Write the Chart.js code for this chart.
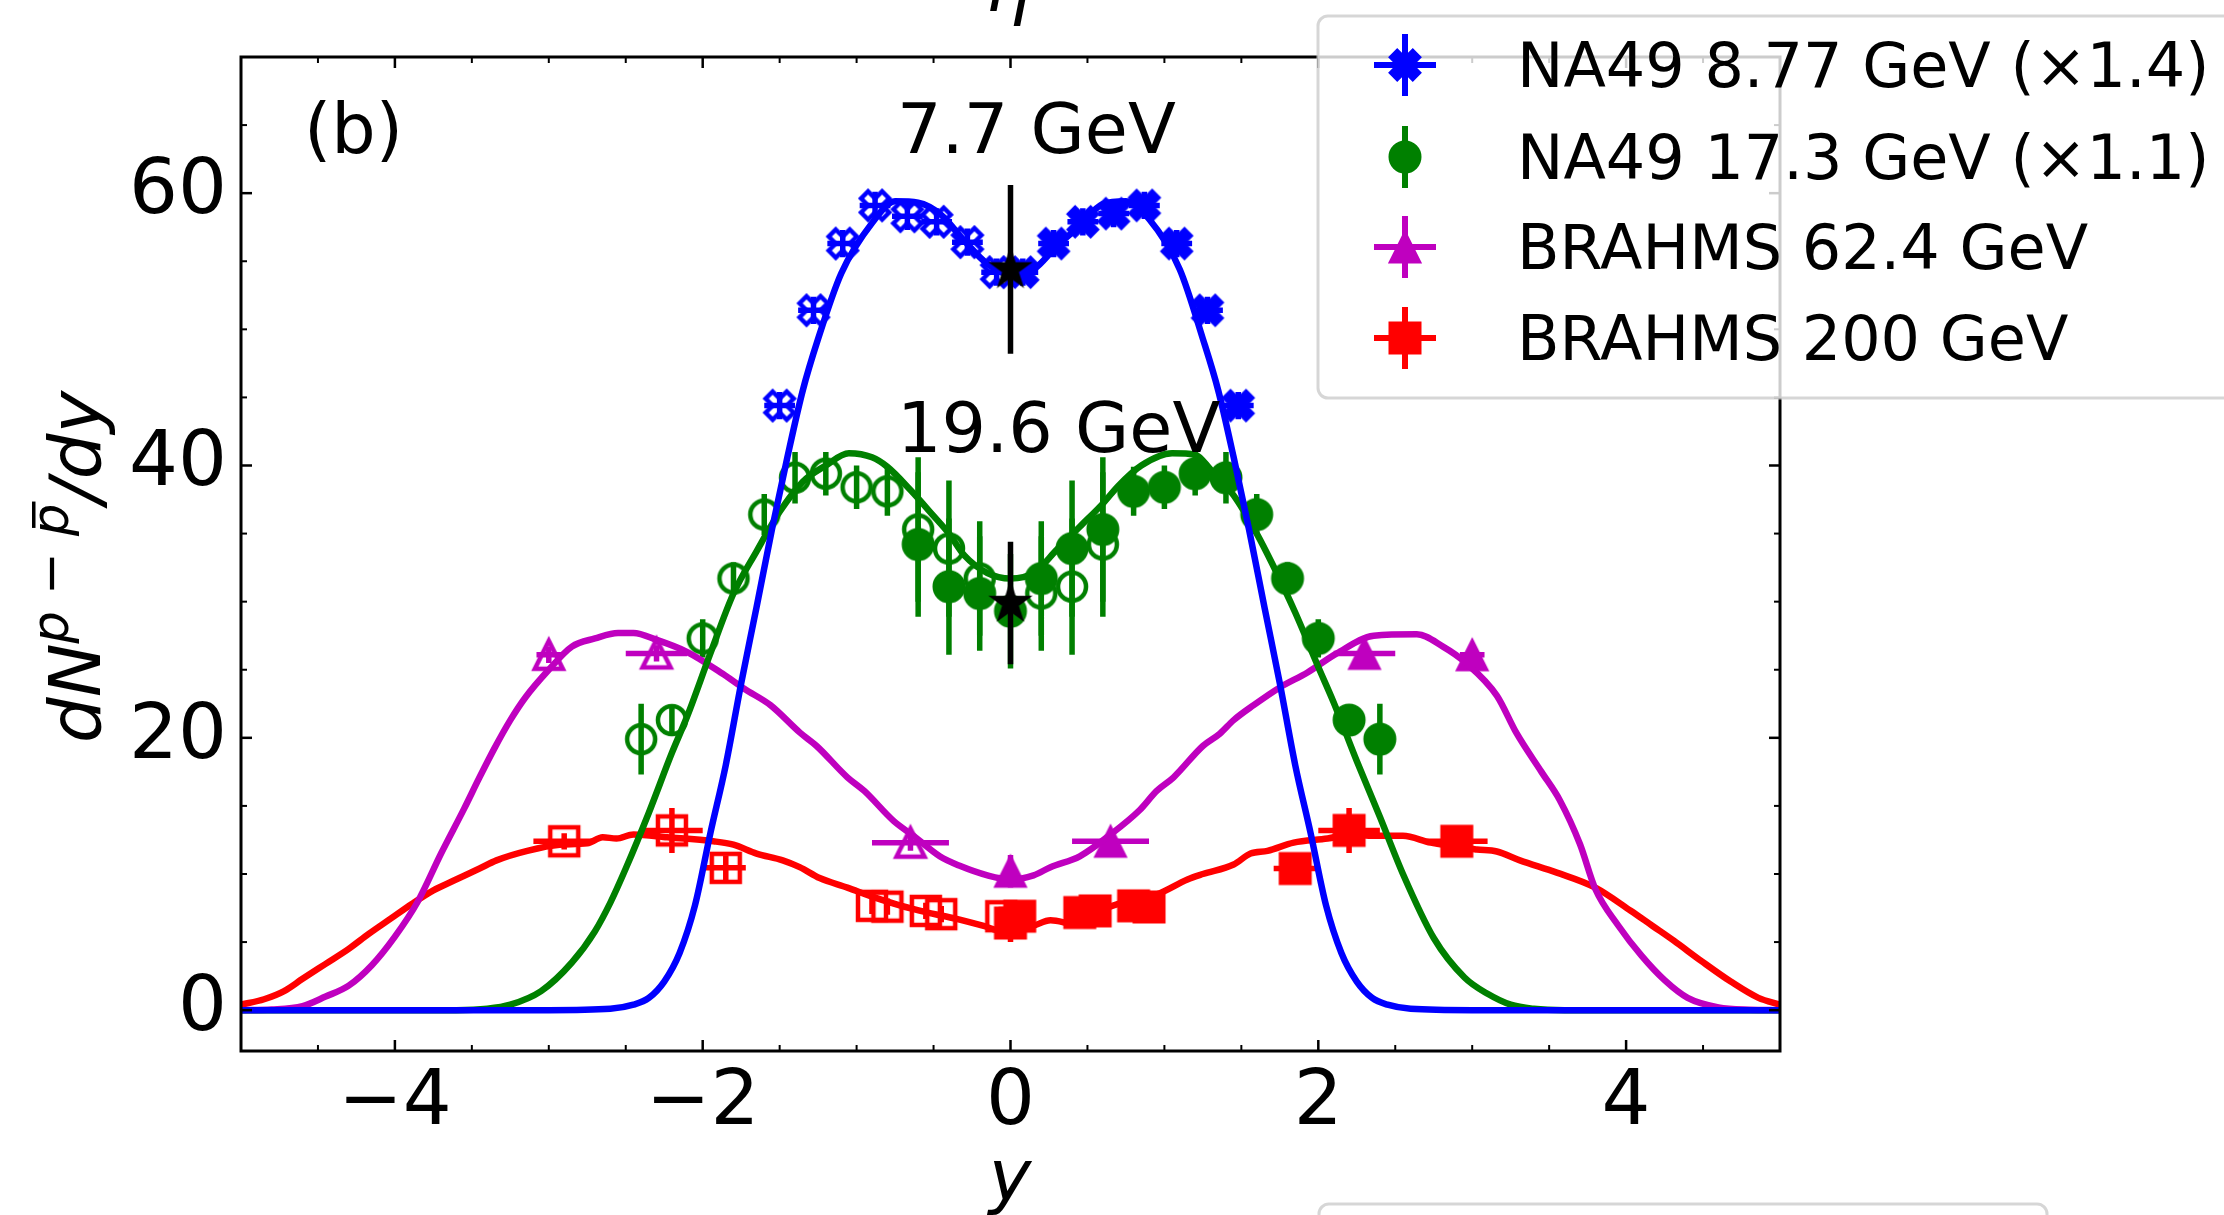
<!DOCTYPE html>
<html>
<head>
<meta charset="utf-8">
<title>Net-proton rapidity distributions</title>
<script src="https://cdn.jsdelivr.net/npm/chart.js@4.4.1/dist/chart.umd.min.js"></script>
<style>
  html, body { margin: 0; padding: 0; background: #fff; }
  #wrap { width: 2224px; height: 1215px; }
</style>
</head>
<body>
<div id="wrap"><canvas id="c" width="2224" height="1215"></canvas></div>
<script>
/* ── axis ticks ── */
const xTicks = [-4, -2, 0, 2, 4];
const yTicks = [0, 20, 40, 60];

/* ── NA49 8.77 GeV (x1.4): measured (filled) and reflected (open) ── */
const na49lo_x    = [0.08, 0.28, 0.47, 0.67, 0.87, 1.08, 1.28, 1.48];
const na49lo_y    = [54.2, 56.3, 57.9, 58.5, 59.1, 56.3, 51.4, 44.4];
const na49lo_xerr = [0.1, 0.1, 0.1, 0.1, 0.1, 0.1, 0.1, 0.1];
const na49lo_yerr = [1.0, 1.0, 1.0, 1.0, 1.0, 1.0, 1.0, 1.0];
const na49lo_rx   = [-0.09, -0.28, -0.48, -0.67, -0.88, -1.09, -1.28, -1.50];
const na49lo_ry   = [54.2, 56.4, 57.9, 58.3, 59.1, 56.3, 51.4, 44.4];

/* ── NA49 17.3 GeV (x1.1) ── */
const na49hi_x    = [-0.6, -0.4, -0.2, 0.0, 0.2, 0.4, 0.6, 0.8, 1.0, 1.2, 1.4, 1.6, 1.8, 2.0, 2.2, 2.4];
const na49hi_y    = [34.2, 31.1, 30.6, 29.3, 31.7, 33.9, 35.3, 38.1, 38.4, 39.4, 39.1, 36.4, 31.7, 27.3, 21.3, 19.9];
const na49hi_yerr = [5.3, 5.0, 4.2, 4.2, 4.2, 5.0, 5.3, 1.8, 1.6, 1.6, 1.9, 1.5, 1.2, 1.4, 1.0, 2.6];
const na49hi_rx   = [0.6, 0.4, 0.2, -0.2, -0.4, -0.6, -0.8, -1.0, -1.2, -1.4, -1.6, -1.8, -2.0, -2.2, -2.4];
const na49hi_ry   = [34.2, 31.1, 30.6, 31.7, 33.9, 35.3, 38.1, 38.4, 39.4, 39.1, 36.4, 31.7, 27.3, 21.3, 19.9];
const na49hi_ryerr = [5.3, 5.0, 4.2, 4.2, 5.0, 5.3, 1.8, 1.6, 1.6, 1.9, 1.5, 1.2, 1.4, 1.0, 2.6];

/* ── BRAHMS 62.4 GeV ── */
const br62_x    = [0.0, 0.65, 2.3, 3.0];
const br62_y    = [10.2, 12.4, 26.2, 26.1];
const br62_xerr = [0, 0.25, 0.2, 0.08];
const br62_yerr = [1.2, 0.6, 0.6, 0.6];
const br62_rx   = [-0.65, -2.3, -3.0];
const br62_ry   = [12.3, 26.2, 26.1];
const br62_rxerr = [0.25, 0.2, 0.08];
const br62_ryerr = [0.6, 0.6, 0.6];

/* ── BRAHMS 200 GeV ── */
const br200_x    = [0.0, 0.06, 0.45, 0.55, 0.8, 0.9, 1.85, 2.2, 2.9];
const br200_y    = [6.4, 6.9, 7.17, 7.29, 7.66, 7.58, 10.4, 13.2, 12.4];
const br200_xerr = [0, 0, 0, 0, 0, 0, 0.14, 0.2, 0.2];
const br200_yerr = [1.4, 0.7, 0.6, 0.6, 0.6, 0.6, 0.9, 1.65, 0.6];
const br200_rx   = [-0.06, -0.45, -0.55, -0.8, -0.9, -1.85, -2.2, -2.9];
const br200_ry   = [6.9, 7.05, 7.29, 7.6, 7.66, 10.45, 13.2, 12.4];
const br200_rxerr = [0, 0, 0, 0, 0, 0.13, 0.2, 0.2];
const br200_ryerr = [0.7, 0.6, 0.6, 0.6, 0.6, 0.9, 1.65, 0.6];

/* ── STAR BES points at y = 0 ── */
const star_x    = [0, 0];
const star_y    = [54.4, 29.9];
const star_yerr = [6.2, 4.5];

/* ── model curves ── */
const curve88_x = [-5, -3, -2.6, -2.45, -2.35, -2.25, -2.15, -2.05, -1.95, -1.85, -1.75, -1.65, -1.55, -1.45, -1.35, -1.25, -1.1, -0.9, -0.75, -0.6, -0.45, -0.3, -0.15, 0, 0.15, 0.3, 0.45, 0.6, 0.75, 0.9, 1.1, 1.25, 1.35, 1.45, 1.55, 1.65, 1.75, 1.85, 1.95, 2.05, 2.15, 2.25, 2.35, 2.45, 2.6, 3, 5];
const curve88_y = [0, 0, 0.1, 0.4, 0.9, 2.1, 4.2, 7.7, 13.0, 18.0, 24.0, 29.6, 35.3, 40.6, 45.5, 49.3, 54.1, 57.8, 59.4, 59.3, 58.4, 56.5, 54.8, 54.0, 54.4, 56.1, 57.6, 59.2, 59.4, 58.1, 54.4, 49.3, 45.5, 40.6, 35.3, 29.6, 24.0, 18.0, 13.0, 7.7, 4.2, 2.1, 0.9, 0.4, 0.1, 0, 0];

const curve173_x = [-5, -3.6, -3.4, -3.25, -3.05, -2.85, -2.7, -2.6, -2.5, -2.35, -2.2, -2.1, -1.95, -1.8, -1.65, -1.5, -1.35, -1.2, -1.05, -0.9, -0.8, -0.65, -0.5, -0.4, -0.3, -0.15, 0, 0.15, 0.3, 0.45, 0.6, 0.7, 0.85, 1.05, 1.2, 1.3, 1.45, 1.6, 1.7, 1.85, 2.0, 2.1, 2.25, 2.4, 2.55, 2.75, 2.95, 3.1, 3.25, 3.4, 3.6, 5];
const curve173_y = [0, 0, 0.1, 0.4, 1.4, 3.5, 5.8, 7.9, 10.4, 14.5, 18.9, 21.6, 26.2, 30.6, 33.7, 36.6, 38.8, 40.0, 40.9, 40.6, 39.9, 38.2, 36.3, 35.0, 33.4, 32.1, 31.7, 32.1, 33.8, 35.5, 37.2, 38.5, 40.0, 40.9, 40.8, 39.7, 37.8, 35.0, 32.8, 29.2, 25.2, 22.6, 18.3, 14.2, 10.0, 5.3, 2.4, 1.2, 0.4, 0.1, 0, 0];

const curve624_x = [-5, -4.8, -4.6, -4.45, -4.3, -4.15, -4.0, -3.85, -3.7, -3.55, -3.45, -3.35, -3.25, -3.15, -3.0, -2.85, -2.7, -2.55, -2.45, -2.3, -2.1, -1.87, -1.73, -1.56, -1.37, -1.26, -1.06, -0.95, -0.76, -0.63, -0.46, -0.33, -0.15, 0, 0.15, 0.26, 0.45, 0.65, 0.84, 0.95, 1.06, 1.25, 1.36, 1.45, 1.58, 1.75, 1.93, 2.12, 2.36, 2.64, 2.81, 2.96, 3.16, 3.29, 3.45, 3.57, 3.7, 3.8, 3.95, 4.1, 4.25, 4.4, 4.6, 4.8, 5];
const curve624_y = [0, 0.05, 0.3, 1.0, 1.8, 3.3, 5.4, 8.0, 11.5, 14.8, 17.1, 19.3, 21.3, 23.0, 25.0, 26.7, 27.3, 27.7, 27.7, 27.2, 26.3, 24.7, 23.6, 22.4, 20.4, 19.4, 17.1, 16.1, 13.9, 12.8, 11.3, 10.6, 9.9, 9.6, 9.9, 10.5, 11.3, 12.9, 14.7, 16.1, 17.1, 19.4, 20.3, 21.3, 22.4, 23.7, 24.8, 26.2, 27.5, 27.6, 26.7, 25.5, 23.1, 20.3, 17.5, 15.4, 12.2, 8.9, 6.2, 4.0, 2.2, 0.9, 0.2, 0.03, 0];

const curve200_x = [-5, -4.85, -4.72, -4.6, -4.45, -4.3, -4.17, -4.03, -3.89, -3.75, -3.62, -3.45, -3.34, -3.14, -2.93, -2.75, -2.65, -2.56, -2.45, -2.23, -1.93, -1.8, -1.65, -1.48, -1.37, -1.24, -1.06, -0.89, -0.72, -0.55, -0.35, -0.18, -0.05, 0.05, 0.15, 0.26, 0.43, 0.58, 0.76, 0.95, 1.15, 1.25, 1.45, 1.56, 1.67, 1.84, 2.06, 2.21, 2.36, 2.55, 2.73, 3.03, 3.16, 3.31, 3.55, 3.8, 4.03, 4.17, 4.31, 4.49, 4.68, 4.86, 5];
const curve200_y = [0.4, 0.8, 1.4, 2.3, 3.4, 4.5, 5.6, 6.7, 7.8, 8.8, 9.5, 10.4, 11.0, 11.7, 12.15, 12.25, 12.7, 12.6, 12.9, 12.7, 12.4, 12.15, 11.5, 11.0, 10.5, 9.7, 9.0, 8.3, 7.7, 7.2, 6.7, 6.2, 5.8, 5.9, 6.2, 6.6, 6.3, 7.3, 8.0, 8.5, 9.6, 10.0, 10.7, 11.5, 11.7, 12.3, 12.6, 12.9, 12.8, 12.8, 12.3, 11.8, 11.65, 11.0, 10.1, 9.0, 7.3, 6.2, 5.1, 3.6, 2.1, 0.9, 0.4];

const legendLabels = ['NA49 8.77 GeV (\u00d71.4)', 'NA49 17.3 GeV (\u00d71.1)', 'BRAHMS 62.4 GeV', 'BRAHMS 200 GeV'];

const BLUE = '#0000ff', GREEN = '#008000', MAG = '#bf00bf', RED = '#ff0000';
const FONT = '"DejaVu Sans", sans-serif';

/* ── marker sprites (matplotlib-like shapes) ── */
function makeMarker(shape, color, filled) {
  const c = document.createElement('canvas');
  c.width = c.height = 52;
  const g = c.getContext('2d');
  g.translate(26, 26);
  g.beginPath();
  const h = filled ? 15.5 : 14;
  if (shape === 'circle') {
    g.arc(0, 0, h, 0, Math.PI * 2);
  } else if (shape === 'square') {
    g.rect(-h, -h, 2 * h, 2 * h);
  } else if (shape === 'triangle') {
    g.moveTo(0, -h); g.lineTo(h, h); g.lineTo(-h, h); g.closePath();
  } else if (shape === 'x') {
    const pts = [[-1, -2], [0, -1], [1, -2], [2, -1], [1, 0], [2, 1], [1, 2], [0, 1], [-1, 2], [-2, 1], [-1, 0], [-2, -1]];
    pts.forEach(([a, b], i) => {
      const px = a * h / 2, py = b * h / 2;
      if (i) g.lineTo(px, py); else g.moveTo(px, py);
    });
    g.closePath();
  } else if (shape === 'star') {
    const R = 20, r = R * 0.382;
    for (let i = 0; i < 10; i++) {
      const rad = (i % 2 ? r : R), a = -Math.PI / 2 + i * Math.PI / 5;
      const px = rad * Math.cos(a), py = rad * Math.sin(a);
      if (i) g.lineTo(px, py); else g.moveTo(px, py);
    }
    g.closePath();
  }
  g.strokeStyle = color;
  g.lineJoin = 'miter';
  if (filled) {
    g.fillStyle = color; g.fill();
    g.lineWidth = 2; g.stroke();
  } else {
    g.lineWidth = 4.5; g.stroke();
  }
  return c;
}

const mk = {
  blueF: makeMarker('x', BLUE, true),   blueO: makeMarker('x', BLUE, false),
  greenF: makeMarker('circle', GREEN, true), greenO: makeMarker('circle', GREEN, false),
  magF: makeMarker('triangle', MAG, true), magO: makeMarker('triangle', MAG, false),
  redF: makeMarker('square', RED, true), redO: makeMarker('square', RED, false),
  star: makeMarker('star', '#000', true)
};

const pts = (xs, ys) => xs.map((x, i) => ({ x, y: ys[i] }));

function markerSet(label, xs, ys, sprite, color, xErr, yErr, order) {
  return {
    label, data: pts(xs, ys), pointStyle: sprite, pointRadius: 15,
    showLine: false, errColor: color, xErr, yErr, order
  };
}

function curveSet(label, xs, ys, color) {
  return {
    label, data: pts(xs, ys), showLine: true, borderColor: color, borderWidth: 6.5,
    pointRadius: 0, tension: 0.3, cubicInterpolationMode: 'monotone', fill: false, order: 2
  };
}

/* ── error bars drawn just under each marker set ── */
const errorBars = {
  id: 'errorBars',
  beforeDatasetDraw(chart, args) {
    const ds = chart.data.datasets[args.index];
    if (!ds.xErr && !ds.yErr) return;
    const { ctx, chartArea: a, scales: { x, y } } = chart;
    ctx.save();
    ctx.beginPath(); ctx.rect(a.left, a.top, a.width, a.height); ctx.clip();
    ctx.strokeStyle = ds.errColor; ctx.lineWidth = 5.5; ctx.lineCap = 'butt';
    ctx.beginPath();
    ds.data.forEach((p, i) => {
      const px = x.getPixelForValue(p.x), py = y.getPixelForValue(p.y);
      const ey = ds.yErr ? ds.yErr[i] : 0, ex = ds.xErr ? ds.xErr[i] : 0;
      if (ey) { ctx.moveTo(px, y.getPixelForValue(p.y - ey)); ctx.lineTo(px, y.getPixelForValue(p.y + ey)); }
      if (ex) { ctx.moveTo(x.getPixelForValue(p.x - ex), py); ctx.lineTo(x.getPixelForValue(p.x + ex), py); }
    });
    ctx.stroke();
    ctx.restore();
  }
};

/* ── frame with inward ticks on all four sides ── */
const frame = {
  id: 'frame',
  afterDatasetsDraw(chart) {
    const { ctx, chartArea: a, scales: { x, y } } = chart;
    ctx.save();
    ctx.strokeStyle = '#000';
    const tick = (x1, y1, x2, y2, w) => { ctx.lineWidth = w; ctx.beginPath(); ctx.moveTo(x1, y1); ctx.lineTo(x2, y2); ctx.stroke(); };
    for (let v = -5; v <= 5.001; v += 0.5) {
      const px = x.getPixelForValue(v);
      const major = xTicks.some(t => Math.abs(t - v) < 1e-6);
      const L = major ? 11 : 6;
      tick(px, a.bottom, px, a.bottom - L, major ? 2.5 : 2);
      tick(px, a.top, px, a.top + L, major ? 2.5 : 2);
    }
    for (let v = 0; v <= 70; v += 5) {
      const py = y.getPixelForValue(v);
      const major = yTicks.includes(v);
      const L = major ? 11 : 6;
      tick(a.left, py, a.left + L, py, major ? 2.5 : 2);
      tick(a.right, py, a.right - L, py, major ? 2.5 : 2);
    }
    ctx.lineWidth = 3;
    ctx.strokeRect(a.left, a.top, a.width, a.height);
    ctx.restore();
  }
};

/* ── labels, annotations and legend ── */
const decorations = {
  id: 'decorations',
  afterDraw(chart) {
    const ctx = chart.ctx;
    ctx.save();
    ctx.fillStyle = '#000';
    ctx.textBaseline = 'alphabetic';

    // annotations
    ctx.font = '70px ' + FONT;
    ctx.textAlign = 'left';
    ctx.fillText('(b)', 304, 153);
    ctx.fillText('7.7 GeV', 897, 153);
    ctx.fillText('19.6 GeV', 897, 452);

    // x label
    ctx.font = 'italic 72px ' + FONT;
    ctx.textAlign = 'center';
    ctx.fillText('y', 1010, 1200);

    // axis label of the panel above, clipped by the page edge
    ctx.textAlign = 'left';
    ctx.fillText('\u03b7', 986, 11);

    // y label: dN^{p - pbar}/dy
    ctx.save();
    ctx.translate(100, 567);
    ctx.rotate(-Math.PI / 2);
    const big = 'italic 72px ' + FONT, sup = 'italic 51px ' + FONT, supUp = '51px ' + FONT;
    const parts = [
      { t: 'dN', f: big, dy: 0 },
      { t: 'p', f: sup, dy: -32 },
      { t: ' \u2212 ', f: supUp, dy: -32 },
      { t: 'p', f: sup, dy: -32, bar: true },
      { t: '/dy', f: big, dy: 0 }
    ];
    let total = 0;
    parts.forEach(p => { ctx.font = p.f; p.w = ctx.measureText(p.t).width; total += p.w; });
    let cx = -total / 2;
    ctx.textAlign = 'left';
    parts.forEach(p => {
      ctx.font = p.f;
      ctx.fillText(p.t, cx, p.dy);
      if (p.bar) {
        ctx.fillRect(cx + 8, p.dy - 36, p.w - 6, 3.5);
      }
      cx += p.w;
    });
    ctx.restore();

    // legend of the panel below, only its top edge is on the page
    ctx.strokeStyle = 'rgba(204,204,204,0.8)';
    ctx.lineWidth = 3;
    ctx.beginPath();
    ctx.roundRect(1319, 1204, 728, 80, 10);
    ctx.stroke();

    // legend (semi-transparent box, runs past the page edge)
    ctx.beginPath();
    ctx.roundRect(1318, 16, 1000, 382, 10);
    ctx.fillStyle = 'rgba(255,255,255,0.8)';
    ctx.fill();
    ctx.strokeStyle = 'rgba(204,204,204,0.8)';
    ctx.stroke();

    const rows = [
      { m: mk.blueF, c: BLUE, xbar: true },
      { m: mk.greenF, c: GREEN, xbar: false },
      { m: mk.magF, c: MAG, xbar: true },
      { m: mk.redF, c: RED, xbar: true }
    ];
    const rowY = [65, 157, 247, 338];
    const hx = 1405;
    rows.forEach((r, i) => {
      const yy = rowY[i];
      ctx.strokeStyle = r.c; ctx.lineWidth = 6;
      ctx.beginPath();
      ctx.moveTo(hx, yy - 31); ctx.lineTo(hx, yy + 31);
      if (r.xbar) { ctx.moveTo(hx - 31, yy); ctx.lineTo(hx + 31, yy); }
      ctx.stroke();
      ctx.drawImage(r.m, hx - r.m.width / 2, yy - r.m.height / 2);
      ctx.fillStyle = '#000';
      ctx.font = '62px ' + FONT;
      ctx.fillText(legendLabels[i], 1517, yy + 22);
    });
    ctx.restore();
  }
};

const fmt = v => (v < 0 ? '\u2212' + Math.abs(v) : String(v));

new Chart(document.getElementById('c'), {
  type: 'scatter',
  data: {
    datasets: [
      // stars on top
      { label: 'STAR', data: pts(star_x, star_y), pointStyle: mk.star, pointRadius: 15,
        showLine: false, errColor: '#000', yErr: star_yerr, order: 1 },
      curveSet('model 8.77', curve88_x, curve88_y, BLUE),
      curveSet('model 17.3', curve173_x, curve173_y, GREEN),
      curveSet('model 62.4', curve624_x, curve624_y, MAG),
      curveSet('model 200', curve200_x, curve200_y, RED),
      markerSet(legendLabels[0], na49lo_x, na49lo_y, mk.blueF, BLUE, na49lo_xerr, na49lo_yerr, 3),
      markerSet('NA49 8.77 reflected', na49lo_rx, na49lo_ry, mk.blueO, BLUE, na49lo_xerr, na49lo_yerr, 3),
      markerSet(legendLabels[1], na49hi_x, na49hi_y, mk.greenF, GREEN, null, na49hi_yerr, 3),
      markerSet('NA49 17.3 reflected', na49hi_rx, na49hi_ry, mk.greenO, GREEN, null, na49hi_ryerr, 3),
      markerSet(legendLabels[2], br62_x, br62_y, mk.magF, MAG, br62_xerr, br62_yerr, 3),
      markerSet('BRAHMS 62.4 reflected', br62_rx, br62_ry, mk.magO, MAG, br62_rxerr, br62_ryerr, 3),
      markerSet(legendLabels[3], br200_x, br200_y, mk.redF, RED, br200_xerr, br200_yerr, 3),
      markerSet('BRAHMS 200 reflected', br200_rx, br200_ry, mk.redO, RED, br200_rxerr, br200_ryerr, 3)
    ]
  },
  options: {
    responsive: false,
    devicePixelRatio: 1,
    animation: false,
    events: [],
    layout: { padding: { left: 0, right: 444, top: 57, bottom: 0 } },
    plugins: { legend: { display: false }, tooltip: { enabled: false } },
    scales: {
      x: {
        type: 'linear', min: -5, max: 5,
        grid: { display: false, drawTicks: false }, border: { display: false },
        afterBuildTicks: s => { s.ticks = xTicks.map(v => ({ value: v })); },
        afterFit: s => { s.height = 164; },
        ticks: { color: '#000', padding: 14, maxRotation: 0, autoSkip: false,
                 font: { family: 'DejaVu Sans', size: 77, lineHeight: 1 }, callback: fmt }
      },
      y: {
        type: 'linear', min: -3, max: 70,
        grid: { display: false, drawTicks: false }, border: { display: false },
        afterBuildTicks: s => { s.ticks = yTicks.map(v => ({ value: v })); },
        afterFit: s => { s.width = 241; },
        ticks: { color: '#000', padding: 14, autoSkip: false,
                 font: { family: 'DejaVu Sans', size: 77, lineHeight: 1 }, callback: fmt }
      }
    }
  },
  plugins: [errorBars, frame, decorations]
});
</script>
</body>
</html>
